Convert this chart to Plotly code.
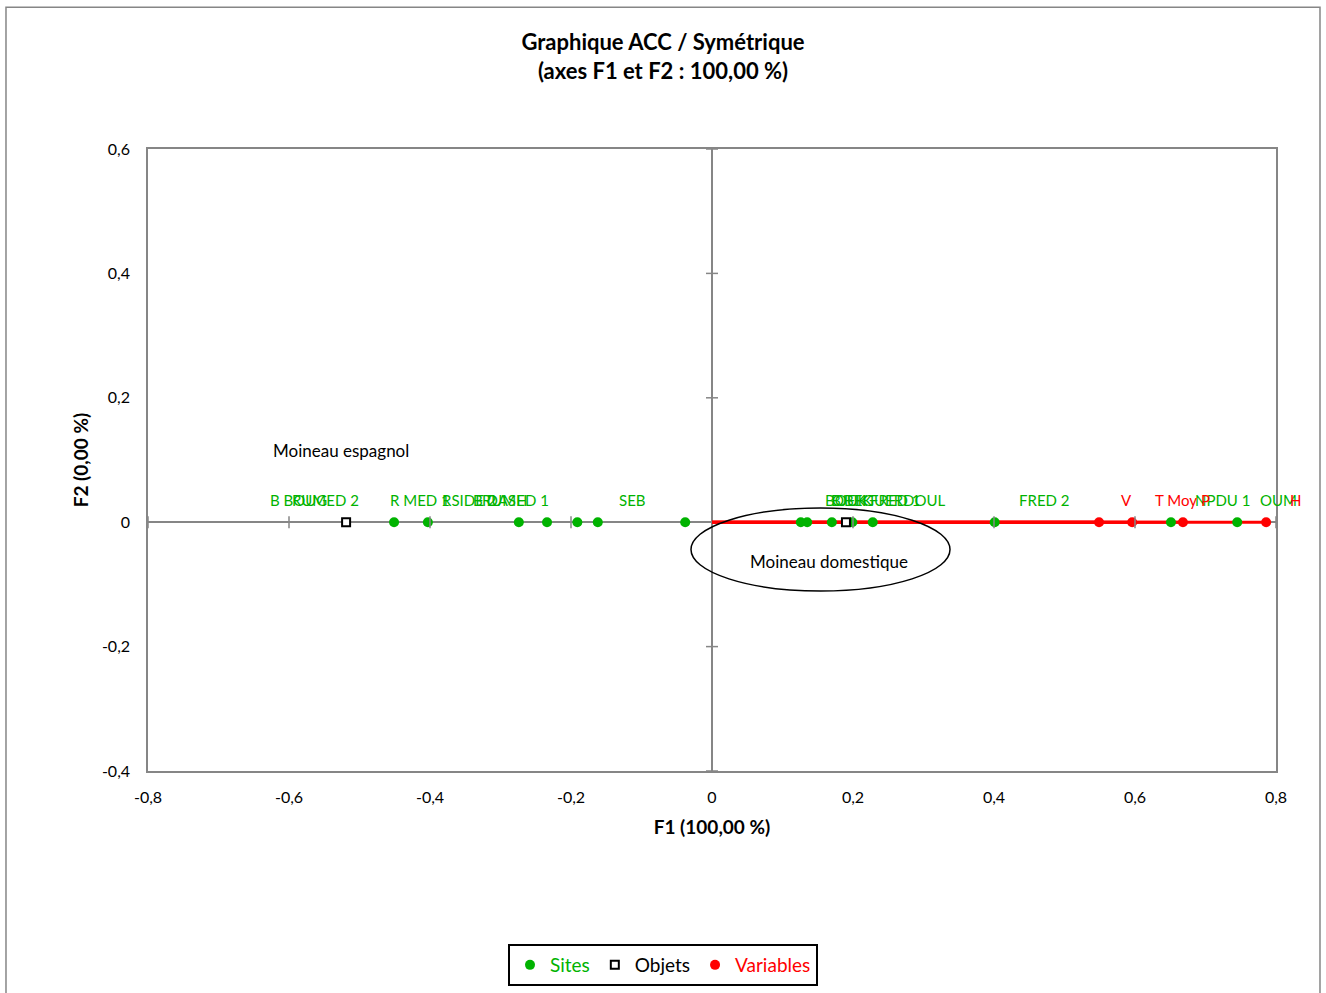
import plotly.graph_objects as go

# ---- data -------------------------------------------------------------
site_names = ["B BOUG", "RUMED 2", "R MED 1", "RSIDE 2", "B DASH", "RUMED 1", "SEB",
              "BOUK", "BJEK", "OBEK", "FRED 1", "GUERDOUL", "FRED 2", "NPDU 1", "OUM"]
site_f1 = [-0.451, -0.403, -0.274, -0.234, -0.191, -0.162, -0.038,
           0.126, 0.135, 0.170, 0.199, 0.228, 0.401, 0.651, 0.745]
site_f2 = [0.0, 0.0, 0.0, 0.0, 0.0, 0.0, 0.0, 0.0, 0.0, 0.0, 0.0, 0.0, 0.0, 0.0, 0.0]

object_names = ["Moineau espagnol", "Moineau domestique"]
object_f1 = [-0.519, 0.190]
object_f2 = [0.0, 0.0]

variable_names = ["V", "T Moy", "P", "H"]
variable_f1 = [0.549, 0.596, 0.668, 0.786]
variable_f2 = [0.0, 0.0, 0.0, 0.0]

x_ticks = [-0.8, -0.6, -0.4, -0.2, 0.0, 0.2, 0.4, 0.6, 0.8]
x_tick_labels = ["-0,8", "-0,6", "-0,4", "-0,2", "0", "0,2", "0,4", "0,6", "0,8"]
y_ticks = [-0.4, -0.2, 0.0, 0.2, 0.4, 0.6]
y_tick_labels = ["-0,4", "-0,2", "0", "0,2", "0,4", "0,6"]

# ---- styling ----------------------------------------------------------
FONT = "Lato"
GREEN = "#00b300"
RED = "#ff0000"
GREY = "#868686"

# horizontal pixel shift of each point label (left edge relative to the point)
site_label_dx = [-126, -138, -131, -107, -106, -118, -68, 22, 22, -2, 16, -12, 22, 22, 21]
variable_label_dx = [20, 21, 16, 22]
LABEL_DY = 22

fig = go.Figure()

# variable vectors from the origin
vx, vy = [], []
for x, y in zip(variable_f1, variable_f2):
    vx += [0, x, None]
    vy += [0, y, None]
fig.add_trace(go.Scatter(x=vx, y=vy, mode="lines", line=dict(color=RED, width=3),
                         showlegend=False, hoverinfo="skip"))

fig.add_trace(go.Scatter(
    x=site_f1, y=site_f2, mode="markers", text=site_names,
    marker=dict(color=GREEN, size=10, symbol="circle"),
    name=f"<span style='color:{GREEN}'>Sites</span>"))

fig.add_trace(go.Scatter(
    x=object_f1, y=object_f2, mode="markers", text=object_names,
    marker=dict(color="white", size=8, symbol="square",
                line=dict(color="black", width=2)),
    name="<span style='color:black'>Objets</span>"))

fig.add_trace(go.Scatter(
    x=variable_f1, y=variable_f2, mode="markers", text=variable_names,
    marker=dict(color=RED, size=10, symbol="circle"),
    name=f"<span style='color:{RED}'>Variables</span>"))

annotations = []
for name, x, y, dx in zip(site_names, site_f1, site_f2, site_label_dx):
    annotations.append(dict(x=x, y=y, xref="x", yref="y", text=name, showarrow=False,
                            xanchor="left", yanchor="middle", xshift=dx, yshift=LABEL_DY,
                            font=dict(family=FONT, size=15, color=GREEN)))
for name, x, y, dx in zip(variable_names, variable_f1, variable_f2, variable_label_dx):
    annotations.append(dict(x=x, y=y, xref="x", yref="y", text=name, showarrow=False,
                            xanchor="left", yanchor="middle", xshift=dx, yshift=LABEL_DY,
                            font=dict(family=FONT, size=15, color=RED)))

# object group captions
annotations.append(dict(x=-0.625, y=0.116, xref="x", yref="y", text=object_names[0],
                        showarrow=False, xanchor="left", yanchor="middle",
                        font=dict(family=FONT, size=17, color="black")))
annotations.append(dict(x=0.166, y=-0.063, xref="x", yref="y", text=object_names[1],
                        showarrow=False, xanchor="center", yanchor="middle",
                        font=dict(family=FONT, size=17, color="black")))

fig.update_layout(
    title=dict(text="<b>Graphique ACC / Symétrique</b><br><b>(axes F1 et F2 : 100,00 %)</b>",
               x=0.5, xref="container", xanchor="center",
               y=1 - 50 / 993, yref="container", yanchor="middle",
               font=dict(family=FONT, size=22, color="black")),
)

shapes = []
# small cross ticks along the zero axes
for t in x_ticks:
    if t != 0:
        shapes.append(dict(type="line", xref="x", yref="y", x0=t, x1=t,
                           ysizemode="pixel", yanchor=0, y0=-6, y1=6,
                           line=dict(color=GREY, width=1.5)))
for t in y_ticks:
    if t != 0:
        shapes.append(dict(type="line", yref="y", xref="x", y0=t, y1=t,
                           xsizemode="pixel", xanchor=0, x0=-6, x1=6,
                           line=dict(color=GREY, width=1.5)))

# ellipse around the house sparrow sites
shapes.append(dict(type="circle", xref="x", yref="y", x0=-0.0298, x1=0.3376,
                   y0=-0.1106, y1=0.0228, line=dict(color="black", width=1.5)))

# outer chart frame
shapes.append(dict(type="rect", xref="paper", yref="paper", x0=-0.1259, x1=1.039,
                   y0=-0.40, y1=1.228, line=dict(color=GREY, width=1.5),
                   fillcolor="rgba(0,0,0,0)", layer="below"))

fig.update_layout(
    width=1326, height=993,
    margin=dict(l=148, r=50, t=149, b=222, autoexpand=False),
    paper_bgcolor="white", plot_bgcolor="white",
    font=dict(family=FONT, size=16, color="black"),
    showlegend=True,
    legend=dict(orientation="h", x=663 / 1326, xref="container", xanchor="center",
                y=1 - 944 / 993, yref="container", yanchor="top",
                bordercolor="black", borderwidth=2, bgcolor="white",
                font=dict(family=FONT, size=19), itemwidth=30),
    annotations=annotations,
    shapes=shapes,
    xaxis=dict(range=[-0.8, 0.8], tickvals=x_ticks, ticktext=x_tick_labels,
               showgrid=False, zeroline=True, zerolinecolor=GREY, zerolinewidth=2,
               showline=True, mirror=True, linecolor=GREY, linewidth=1.5,
               ticks="", ticklabelstandoff=11, automargin=False,
               title=dict(text="<b>F1 (100,00 %)</b>", standoff=16,
                          font=dict(family=FONT, size=19))),
    yaxis=dict(range=[-0.4, 0.6], tickvals=y_ticks, ticktext=y_tick_labels,
               showgrid=False, zeroline=True, zerolinecolor=GREY, zerolinewidth=2,
               showline=True, mirror=True, linecolor=GREY, linewidth=1.5,
               ticks="", ticklabelstandoff=13, automargin=False,
               title=dict(text="<b>F2 (0,00 %)</b>", standoff=8,
                          font=dict(family=FONT, size=19))),
)

fig.write_html("out.html")
